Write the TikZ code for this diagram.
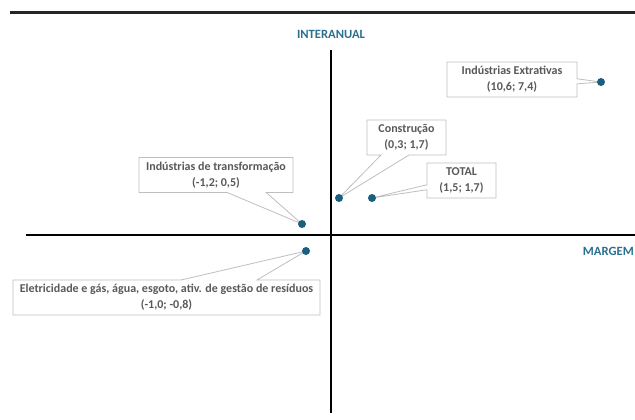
\documentclass[tikz,border=0pt]{standalone}
\usepackage{fontspec}
\setmainfont{Carlito}[BoldFont={Carlito Bold}]
\usetikzlibrary{shapes.callouts}
\definecolor{serieblue}{HTML}{1B5E7E}
\definecolor{titleblue}{HTML}{2A6F8F}
\definecolor{labelgray}{HTML}{595959}
\definecolor{boxgray}{HTML}{BFBFBF}
\begin{document}
\begin{tikzpicture}
[x=1pt,y=-1pt,%
  pointdecorate/.style={shape=circle,inner sep=0pt,minimum size=8pt,fill=serieblue},%
  labeldecorate/.style={rectangle callout,draw=boxgray,fill=white,line width=0.8pt,
    align=center,text=labelgray,minimum height=35pt,inner sep=2pt,
    font=\bfseries\fontsize{12}{16}\selectfont},%
  axisdecorate/.style={-,line width=1.2pt,black},%
  titledecorate/.style={text=titleblue,font=\bfseries\fontsize{12.6}{14}\selectfont}]
\useasboundingbox (0,0) rectangle (635,420);
%% header rule and axes
\draw[line width=3pt,black!85] (10,13) -- (635,13);
\draw[axisdecorate] (331,50) -- (331,413);
\draw[axisdecorate] (26,235) -- (635,235);
\node (interanual) at (331,34) [titledecorate] {INTERANUAL};
\node (margem) at (634,251) [titledecorate,anchor=east,inner sep=0pt] {MARGEM};
%% data points
\foreach \pointname/\x/\y in {
  extr/601/82, constr/339/198, total/372/198, transf/302/224, eletr/306/251} {
  \coordinate (\pointname) at (\x,\y);
}
%% labels
\node (lbl-extr) at (512,79.5) [labeldecorate,minimum width=130pt,
  callout absolute pointer=(extr),callout pointer width=5pt]
  {Indústrias Extrativas\\(10,6; 7,4)};
\node (lbl-constr) at (406.5,137.5) [labeldecorate,minimum width=79pt,
  callout absolute pointer=(constr),callout pointer width=28pt]
  {Construção\\(0,3; 1,7)};
\node (lbl-total) at (461.5,180.5) [labeldecorate,minimum width=69pt,
  callout absolute pointer=(total),callout pointer width=5pt]
  {TOTAL\\(1,5; 1,7)};
\node (lbl-transf) at (216,175) [labeldecorate,minimum width=154pt,
  callout absolute pointer=(transf),callout pointer width=39pt]
  {Indústrias de transformação\\(-1,2; 0,5)};
\node (lbl-eletr) at (166.5,297.5) [labeldecorate,minimum width=307pt,
  callout absolute pointer=(eletr),callout pointer width=76pt]
  {Eletricidade e gás, água, esgoto, ativ. de gestão de resíduos\\(-1,0; -0,8)};
%% dots on top
\foreach \pointname in {extr, constr, total, transf, eletr} {
  \node (dot-\pointname) at (\pointname) [pointdecorate] {};
}
\end{tikzpicture}
\end{document}
